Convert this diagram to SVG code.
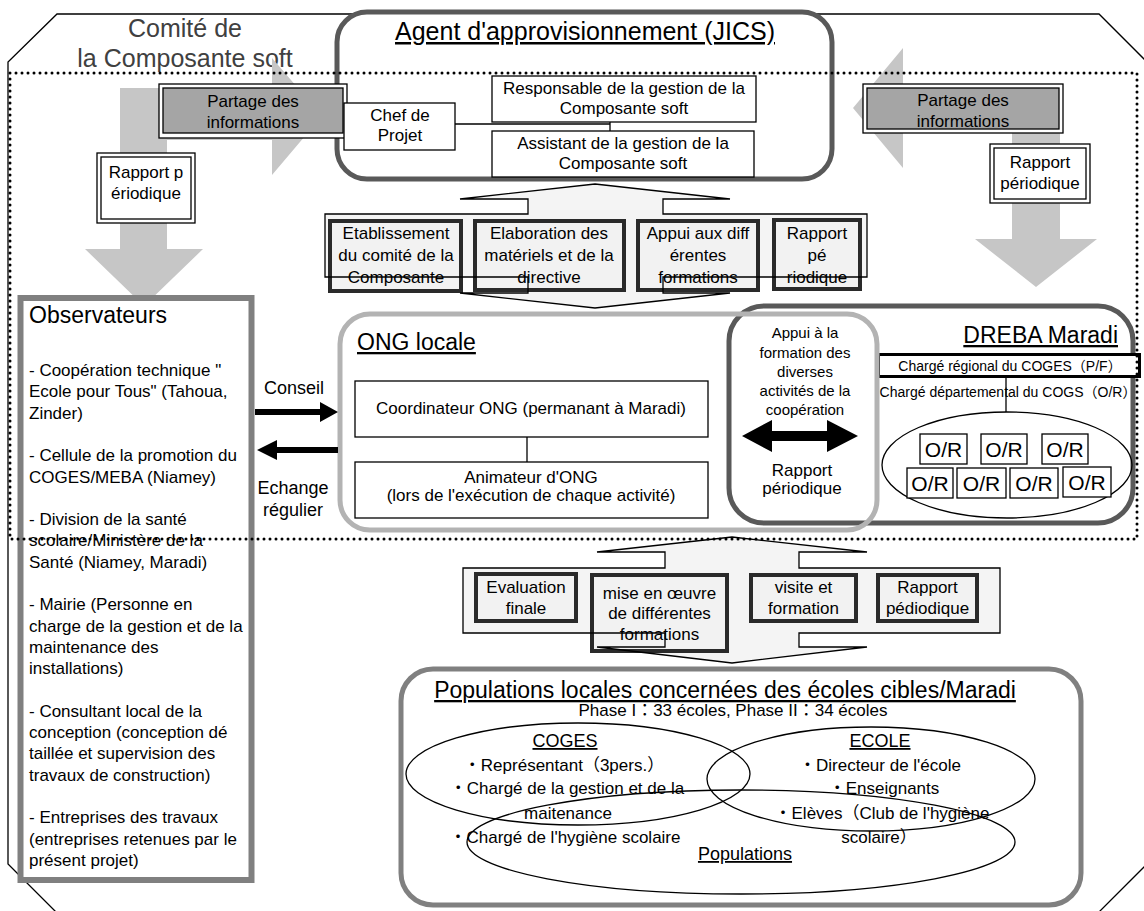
<svg xmlns="http://www.w3.org/2000/svg" width="1144" height="911" viewBox="0 0 1144 911">
<defs>
<style>
text{font-family:'Liberation Sans',Arial,'Noto Sans CJK JP',sans-serif;fill:#000}
.f14{font-size:14px}.f15{font-size:15px}.f17{font-size:17px}.f18{font-size:18px}.f21{font-size:21px}.f23{font-size:23px}.f25{font-size:25px}
.c{text-anchor:middle}
.u{text-decoration:underline}
.gar{fill:#c6c6c6}
.dbl{fill:#fff;stroke:#000;stroke-width:1.3}
.thk{fill:#f2f2f2;stroke:#2a2a2a;stroke-width:4}
.thn{fill:#fff;stroke:#000;stroke-width:1.3}
.ln{fill:none;stroke:#000;stroke-width:1.3}
.blk{fill:#000}
</style>
</defs>
<rect width="1144" height="911" fill="#fff"/>

<g id="comite">
<polygon points="57,14 1099,14 1147,62 1147,864 1099,912 56,912 8,864 8,62" fill="none" stroke="#000" stroke-width="1.3"/>
<text class="f25 c" x="185" y="37" style="fill:#404040">Comité de</text>
<text class="f25 c" x="185" y="67" style="fill:#404040">la Composante soft</text>
</g>

<g id="connectors-back">
<polygon class="gar" points="120,88 167,88 167,249 203,249 144,306 85,249 120,249"/>
<polygon class="gar" points="165,93 272,93 272,58 322,116 272,175 272,140 165,140"/>
<polygon class="gar" points="1000,85 903,85 903,48 853,108 903,168 903,131 1000,131"/>
<polygon class="gar" points="1012,100 1060,100 1060,239 1097,239 1036,287 975,239 1012,239"/>
</g>

<g id="jics">
<rect x="337" y="12" width="495" height="167" rx="30" fill="#fff" stroke="#595959" stroke-width="5"/>
<text class="f25 c u" x="585" y="40">Agent d'approvisionnement (JICS)</text>
<rect class="thn" x="492" y="76" width="264" height="46" stroke-width="2"/>
<text class="f17 c" x="624" y="94">Responsable de la gestion de la</text>
<text class="f17 c" x="624" y="114">Composante soft</text>
<rect class="thn" x="492" y="131" width="262" height="46" stroke-width="2"/>
<text class="f17 c" x="623" y="149">Assistant de la gestion de la</text>
<text class="f17 c" x="623" y="169">Composante soft</text>
</g>

<g id="partage-left">
<rect class="dbl" x="159" y="84" width="188" height="54"/>
<rect x="163" y="88" width="180" height="45" fill="#a5a5a5" stroke="#000" stroke-width="1.3"/>
<text class="f17 c" x="253" y="107">Partage des</text>
<text class="f17 c" x="253" y="128">informations</text>
</g>

<g id="chef">
<rect class="thn" x="344" y="103" width="111" height="47"/>
<text class="f17 c" x="400" y="121">Chef de</text>
<text class="f17 c" x="400" y="141">Projet</text>
</g>

<g id="partage-right">
<rect class="dbl" x="863" y="84" width="200" height="49"/>
<rect x="867" y="88" width="192" height="41" fill="#a5a5a5" stroke="#000" stroke-width="1.3"/>
<text class="f17 c" x="963" y="106">Partage des</text>
<text class="f17 c" x="963" y="127">informations</text>
</g>

<g id="rapport-left">
<rect class="dbl" x="97" y="153" width="98" height="70"/>
<rect class="dbl" x="101" y="157" width="90" height="62"/>
<text class="f17 c" x="146" y="178">Rapport p</text>
<text class="f17 c" x="146" y="199">ériodique</text>
</g>

<g id="rapport-right">
<rect class="dbl" x="990" y="144" width="100" height="59"/>
<rect class="dbl" x="994" y="148" width="92" height="51"/>
<text class="f17 c" x="1040" y="168">Rapport</text>
<text class="f17 c" x="1040" y="189">périodique</text>
</g>

<g id="band-top">
<polygon points="595,184 730,199 663,199 663,214 867,214 867,277 663,277 663,293 730,293 595,308 460,293 528,293 528,277 325,277 325,214 528,214 528,199 460,199" fill="#f4f4f4"/>
<rect class="thk" x="330" y="221" width="131" height="70"/>
<text class="f17 c" x="396" y="239">Etablissement</text>
<text class="f17 c" x="396" y="261">du comité de la</text>
<text class="f17 c" x="396" y="283">Composante</text>
<rect class="thk" x="475" y="221" width="149" height="69"/>
<text class="f17 c" x="549" y="239">Elaboration des</text>
<text class="f17 c" x="549" y="261">matériels et de la</text>
<text class="f17 c" x="549" y="283">directive</text>
<rect class="thk" x="638" y="221" width="120" height="69"/>
<text class="f17 c" x="698" y="239">Appui aux diff</text>
<text class="f17 c" x="698" y="261">érentes</text>
<text class="f17 c" x="698" y="283">formations</text>
<rect class="thk" x="774" y="220" width="86" height="69"/>
<text class="f17 c" x="817" y="239">Rapport</text>
<text class="f17 c" x="817" y="261">pé</text>
<text class="f17 c" x="817" y="283">riodique</text>
<polygon points="595,184 730,199 663,199 663,214 867,214 867,277 663,277 663,293 730,293 595,308 460,293 528,293 528,277 325,277 325,214 528,214 528,199 460,199" fill="none" stroke="#000" stroke-width="1.3"/>
</g>

<g id="dreba">
<rect x="729" y="306" width="404" height="217" rx="35" fill="#fff" stroke="#595959" stroke-width="5"/>
<text class="f23 u" x="1118" y="343" text-anchor="end">DREBA Maradi</text>
<rect x="878.5" y="354.5" width="261" height="22" fill="#fff" stroke="#000" stroke-width="3"/>
<text class="f14 c" x="1010" y="371">Chargé régional du COGES（P/F）</text>
<text class="f14 c" x="1008" y="397">Chargé départemental du COGS（O/R）</text>
<ellipse cx="1007" cy="465" rx="125" ry="53" fill="none" stroke="#000" stroke-width="1.3"/>
<rect class="thn" x="920" y="434" width="47" height="30"/><text class="f21 c" x="943.5" y="457">O/R</text>
<rect class="thn" x="981" y="434" width="46" height="30"/><text class="f21 c" x="1004" y="457">O/R</text>
<rect class="thn" x="1042" y="434" width="46" height="30"/><text class="f21 c" x="1065" y="457">O/R</text>
<rect class="thn" x="907" y="468" width="46" height="30"/><text class="f21 c" x="930" y="491">O/R</text>
<rect class="thn" x="957" y="468" width="49" height="30"/><text class="f21 c" x="981.5" y="491">O/R</text>
<rect class="thn" x="1010" y="468" width="48" height="30"/><text class="f21 c" x="1034" y="491">O/R</text>
<rect class="thn" x="1063" y="467" width="48" height="30"/><text class="f21 c" x="1087" y="490">O/R</text>
</g>

<g id="ong">
<rect x="340" y="314" width="537" height="216" rx="30" fill="none" stroke="#b3b3b3" stroke-width="5"/>
<text class="f23 u" x="357" y="350">ONG locale</text>
<rect class="thn" x="355" y="381" width="353" height="56" stroke-width="2.5"/>
<text class="f17 c" x="531" y="414">Coordinateur ONG (permanant à Maradi)</text>
<rect class="thn" x="355" y="462" width="353" height="56" stroke-width="2.5"/>
<text class="f17 c" x="531" y="483">Animateur d'ONG</text>
<text class="f17 c" x="531" y="501">(lors de l'exécution de chaque activité)</text>
</g>

<g id="echange-labels">
<text class="f15 c" x="805" y="338">Appui à la</text>
<text class="f15 c" x="805" y="358">formation des</text>
<text class="f15 c" x="805" y="377">diverses</text>
<text class="f15 c" x="805" y="396">activités de la</text>
<text class="f15 c" x="805" y="415">coopération</text>
<text class="f17 c" x="802" y="476">Rapport</text>
<text class="f17 c" x="802" y="494">périodique</text>
<text class="f18 c" x="294" y="394">Conseil</text>
<text class="f18 c" x="293" y="494">Echange</text>
<text class="f18 c" x="293" y="516">régulier</text>
</g>

<g id="connectors">
<polyline class="ln" points="455,124 610,124"/>
<line class="ln" x1="610" y1="122" x2="610" y2="131"/>
<line class="ln" x1="527" y1="437" x2="527" y2="462"/>
<line class="ln" x1="1006" y1="378" x2="1006" y2="412"/>
<polygon class="blk" points="255,409 320,409 320,402 338,412 320,422 320,415 255,415"/>
<polygon class="blk" points="338,447 277,447 277,440 257,450 277,460 277,453 338,453"/>
<polygon class="blk" points="742,436 772,420 772,431 827,431 827,420 858,436 827,452 827,441 772,441 772,452"/>
</g>

<g id="observateurs">
<rect x="20.5" y="298" width="231" height="582" fill="#fff" stroke="#808080" stroke-width="6"/>
<text class="f23" x="29" y="323">Observateurs</text>
<text class="f17" x="29">
<tspan x="29" y="376">- Coopération technique "</tspan>
<tspan x="29" y="397.3">Ecole pour Tous" (Tahoua,</tspan>
<tspan x="29" y="418.6">Zinder)</tspan>
<tspan x="29" y="461.2">- Cellule de la promotion du</tspan>
<tspan x="29" y="482.5">COGES/MEBA (Niamey)</tspan>
<tspan x="29" y="525.1">- Division de la santé</tspan>
<tspan x="29" y="546.4">scolaire/Ministère de la</tspan>
<tspan x="29" y="567.7">Santé (Niamey, Maradi)</tspan>
<tspan x="29" y="610.3">- Mairie (Personne en</tspan>
<tspan x="29" y="631.6">charge de la gestion et de la</tspan>
<tspan x="29" y="652.9">maintenance des</tspan>
<tspan x="29" y="674.2">installations)</tspan>
<tspan x="29" y="716.8">- Consultant local de la</tspan>
<tspan x="29" y="738.1">conception (conception dé</tspan>
<tspan x="29" y="759.4">taillée et supervision des</tspan>
<tspan x="29" y="780.7">travaux de construction)</tspan>
<tspan x="29" y="823.3">- Entreprises des travaux</tspan>
<tspan x="29" y="844.6">(entreprises retenues par le</tspan>
<tspan x="29" y="865.9">présent projet)</tspan>
</text>
</g>

<g id="band-bottom">
<polygon points="732,537 867,552 799,552 799,568 1000,568 1000,633 799,633 799,647 867,647 732,663 597,647 665,647 665,633 463,633 463,568 665,568 665,552 597,552" fill="#f4f4f4"/>
<rect class="thk" x="476" y="574" width="100" height="47"/>
<text class="f17 c" x="526" y="593">Evaluation</text>
<text class="f17 c" x="526" y="614">finale</text>
<rect class="thk" x="592" y="575" width="135" height="76"/>
<text class="f17 c" x="659.5" y="599">mise en œuvre</text>
<text class="f17 c" x="659.5" y="619">de différentes</text>
<text class="f17 c" x="659.5" y="640">formations</text>
<rect class="thk" x="751" y="575" width="105" height="46"/>
<text class="f17 c" x="803.5" y="593">visite et</text>
<text class="f17 c" x="803.5" y="614">formation</text>
<rect class="thk" x="878" y="575" width="99" height="46"/>
<text class="f17 c" x="927.5" y="593">Rapport</text>
<text class="f17 c" x="927.5" y="614">pédiodique</text>
<polygon points="732,537 867,552 799,552 799,568 1000,568 1000,633 799,633 799,647 867,647 732,663 597,647 665,647 665,633 463,633 463,568 665,568 665,552 597,552" fill="none" stroke="#000" stroke-width="1.3"/>
</g>

<g id="populations">
<rect x="401" y="669" width="680" height="236" rx="32" fill="#fff" stroke="#808080" stroke-width="5"/>
<text class="f23 c u" x="725" y="698">Populations locales concernées des écoles cibles/Maradi</text>
<text class="f17 c" x="733" y="716">Phase I：33 écoles, Phase II：34 écoles</text>
<text class="f18 c u" x="565" y="747">COGES</text>
<text class="f17 c" x="564" y="771">・Représentant（3pers.）</text>
<text class="f17 c" x="567" y="794">・Chargé de la gestion et de la</text>
<text class="f17 c" x="568" y="819">maitenance</text>
<text class="f17 c" x="565" y="843">・Chargé de l'hygiène scolaire</text>
<text class="f18 c u" x="880" y="747">ECOLE</text>
<text class="f17 c" x="880" y="771">・Directeur de l'école</text>
<text class="f17 c" x="884" y="794">・Enseignants</text>
<text class="f17 c" x="882" y="819">・Elèves（Club de l'hygiène</text>
<text class="f17 c" x="879" y="843">scolaire）</text>
<text class="f18 c u" x="745" y="860">Populations</text>
<ellipse cx="578" cy="774" rx="172" ry="51" fill="none" stroke="#000" stroke-width="1.3"/>
<ellipse cx="871" cy="779" rx="164" ry="52" fill="none" stroke="#000" stroke-width="1.3"/>
<ellipse cx="741" cy="842" rx="274" ry="52" fill="none" stroke="#000" stroke-width="1.3"/>
</g>

<g id="dotted-frame">
<rect x="10" y="73" width="1127" height="466" fill="none" stroke="#000" stroke-width="3" stroke-dasharray="0 6" stroke-linecap="round"/>
</g>
</svg>
